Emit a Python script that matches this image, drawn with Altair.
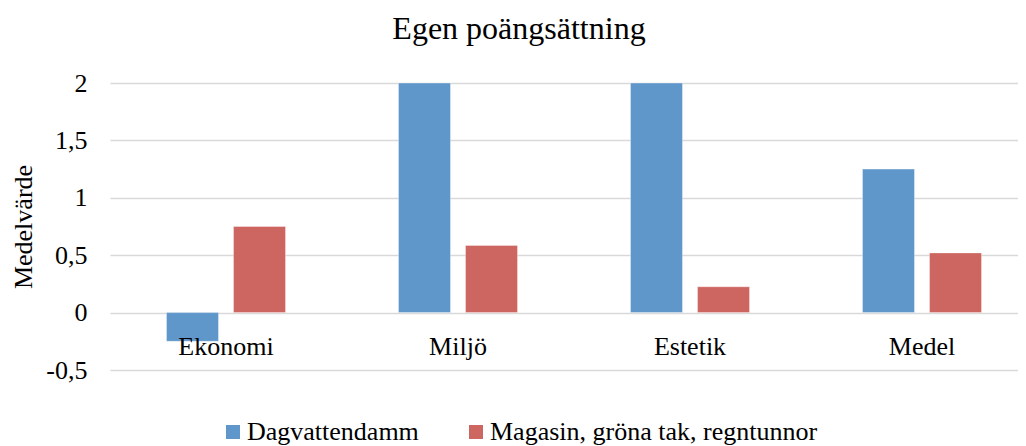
import altair as alt
import pandas as pd

categories = ["Ekonomi", "Miljö", "Estetik", "Medel"]
series_names = ["Dagvattendamm", "Magasin, gröna tak, regntunnor"]
dagvattendamm = [-0.25, 2.0, 2.0, 1.25]
magasin = [0.75, 0.585, 0.225, 0.52]
y_ticks = [-0.5, 0, 0.5, 1, 1.5, 2]
colors = ["#6097CB", "#CD6560"]

rows = []
for c, a, b in zip(categories, dagvattendamm, magasin):
    rows.append({"Kategori": c, "Serie": series_names[0], "Värde": a})
    rows.append({"Kategori": c, "Serie": series_names[1], "Värde": b})
df = pd.DataFrame(rows)
cat_df = pd.DataFrame({"Kategori": categories, "zero": [0] * len(categories)})

FONT = "Liberation Serif"

x_scale = alt.Scale(domain=categories, range=[0, 928], paddingInner=0.487, paddingOuter=0.2435)

bars = alt.Chart(df).mark_bar(stroke="white", strokeOpacity=0.35, strokeWidth=1).encode(
    x=alt.X("Kategori:N", scale=x_scale, sort=categories, axis=None),
    xOffset=alt.XOffset("Serie:N", sort=series_names,
                        scale=alt.Scale(domain=series_names, paddingInner=0.224, paddingOuter=0)),
    y=alt.Y("Värde:Q",
            scale=alt.Scale(domain=[-0.5, 2], nice=False, zero=False),
            axis=alt.Axis(values=y_ticks, title="Medelvärde",
                          labelExpr="replace(toString(datum.value), '.', ',')",
                          domain=False, ticks=False, labelPadding=23,
                          titlePadding=9, grid=True,
                          labelFont=FONT, titleFont=FONT)),
    color=alt.Color("Serie:N", sort=series_names,
                    scale=alt.Scale(domain=series_names, range=colors),
                    legend=alt.Legend(title=None, orient="none", legendX=110, legendY=336,
                                      direction="horizontal", symbolType="square",
                                      symbolSize=196, symbolStrokeWidth=0,
                                      labelFont=FONT, labelFontSize=26, labelColor="black",
                                      labelOffset=1, columnPadding=44, padding=0,
                                      labelLimit=600)),
)

labels = alt.Chart(cat_df).mark_text(font=FONT, fontSize=26, color="black",
                                     baseline="alphabetic", dy=42).encode(
    x=alt.X("Kategori:N", scale=x_scale, sort=categories, axis=None),
    y=alt.Y("zero:Q"),
    text="Kategori:N",
)

chart = alt.layer(bars, labels).properties(
    width=908,
    height=287,
    title=alt.TitleParams("Egen poängsättning", font=FONT, fontSize=32, fontWeight="normal",
                          color="black", anchor="middle", dx=-45, offset=24),
    autosize=alt.AutoSizeParams(type="none"),
    padding={"left": 102, "top": 75, "right": 0, "bottom": 80},
).configure(font=FONT).configure_view(stroke=None).configure_axis(
    labelFont=FONT, labelFontSize=26, labelColor="black",
    titleFont=FONT, titleFontSize=26, titleColor="black", titleFontWeight="normal",
    gridColor="#d9d9d9", gridWidth=1.5,
).configure_legend(labelFont=FONT)

chart.save("out.html", embed_options={"renderer": "svg", "actions": False})
